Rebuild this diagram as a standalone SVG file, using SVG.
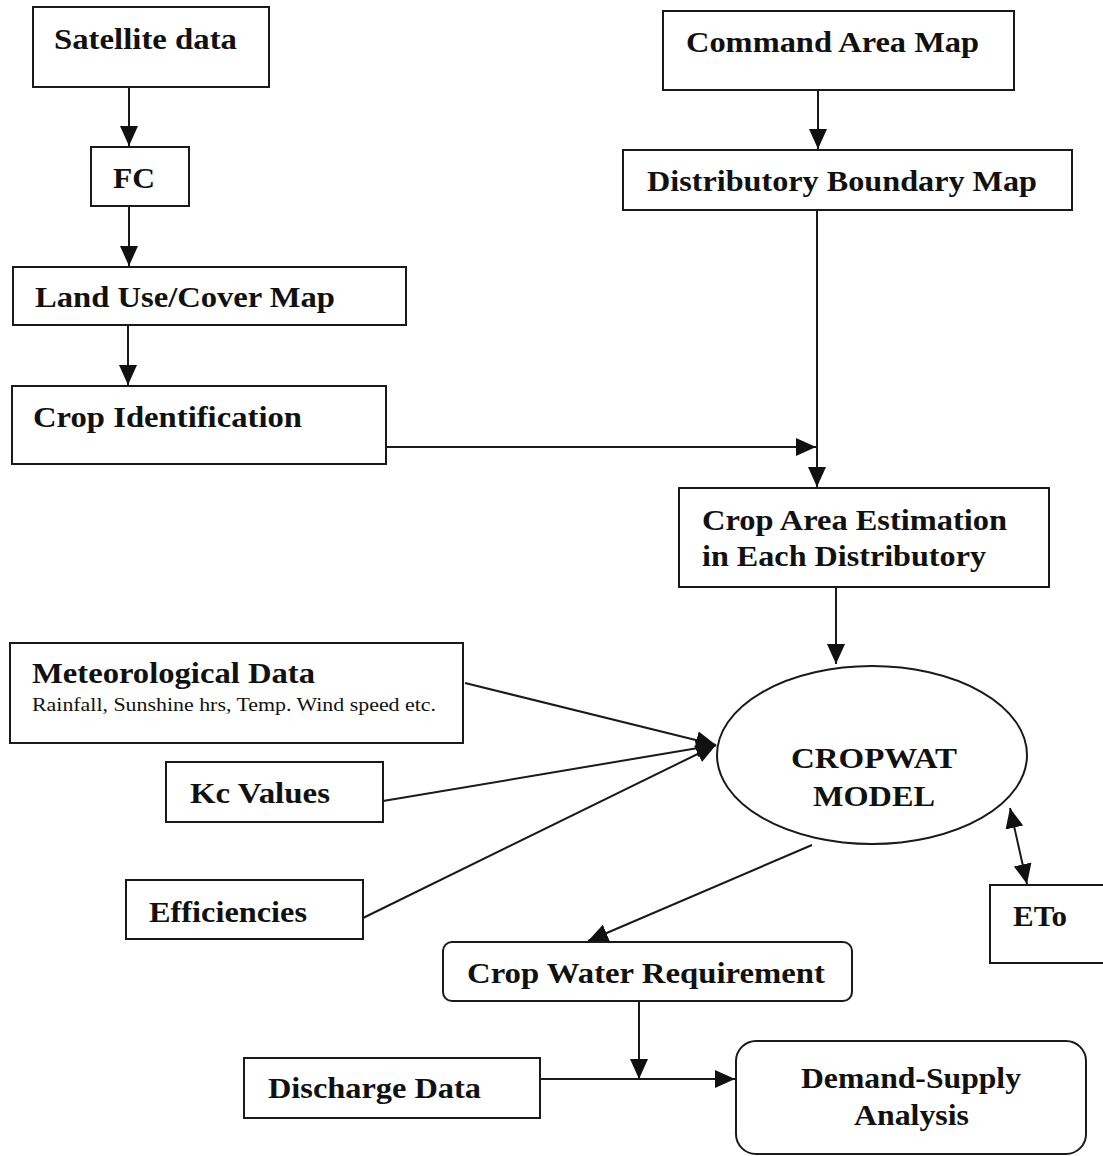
<svg xmlns="http://www.w3.org/2000/svg" width="1103" height="1156" viewBox="0 0 1103 1156">
<style>
.box{fill:#fff;stroke:#1a1a1a;stroke-width:2}
.t{font-family:"Liberation Serif","Times New Roman",serif;font-weight:bold;font-size:30px;fill:#111}
.s{font-family:"Liberation Serif","Times New Roman",serif;font-size:19px;fill:#111}
.c{fill:none;stroke:#1a1a1a;stroke-width:2}
</style>
<defs>
<marker id="ah" markerUnits="userSpaceOnUse" markerWidth="20" markerHeight="20" viewBox="0 0 20 20" refX="20" refY="10" orient="auto">
<path d="M0,1 L20,10 L0,19 Z" fill="#111"/>
</marker>
<marker id="ahs" markerUnits="userSpaceOnUse" markerWidth="20" markerHeight="20" viewBox="0 0 20 20" refX="0" refY="10" orient="auto">
<path d="M20,1 L0,10 L20,19 Z" fill="#111"/>
</marker>
</defs>
<rect width="1103" height="1156" fill="#fff"/>
<g id="connectors">
<line class="c" x1="129" y1="87" x2="129" y2="146" marker-end="url(#ah)"/>
<line class="c" x1="129" y1="206" x2="129" y2="266" marker-end="url(#ah)"/>
<line class="c" x1="128" y1="325" x2="128" y2="385" marker-end="url(#ah)"/>
<line class="c" x1="818" y1="90" x2="818" y2="149" marker-end="url(#ah)"/>
<line class="c" x1="817" y1="210" x2="817" y2="487" marker-end="url(#ah)"/>
<line class="c" x1="386" y1="447" x2="816" y2="447" marker-end="url(#ah)"/>
<line class="c" x1="836" y1="587" x2="836" y2="664" marker-end="url(#ah)"/>
<line class="c" x1="465" y1="683" x2="716" y2="745" marker-end="url(#ah)"/>
<line class="c" x1="383" y1="801" x2="716" y2="745" marker-end="url(#ah)"/>
<line class="c" x1="363" y1="918" x2="716" y2="745" marker-end="url(#ah)"/>
<line class="c" x1="1010" y1="808" x2="1027" y2="884" marker-start="url(#ahs)" marker-end="url(#ah)"/>
<line class="c" x1="812" y1="845" x2="588" y2="941" marker-end="url(#ah)"/>
<line class="c" x1="639" y1="1001" x2="639" y2="1079" marker-end="url(#ah)"/>
<line class="c" x1="540" y1="1079" x2="735" y2="1079" marker-end="url(#ah)"/>
</g>
<g id="satellite"><rect class="box" x="33" y="7" width="236" height="80"/><text class="t" x="54" y="49" textLength="183" lengthAdjust="spacingAndGlyphs">Satellite data</text></g>
<g id="fc"><rect class="box" x="91" y="147" width="98" height="59"/><text class="t" x="113" y="188" textLength="42" lengthAdjust="spacingAndGlyphs">FC</text></g>
<g id="landuse"><rect class="box" x="13" y="267" width="393" height="58"/><text class="t" x="35" y="307" textLength="300" lengthAdjust="spacingAndGlyphs">Land Use/Cover Map</text></g>
<g id="cropid"><rect class="box" x="12" y="386" width="374" height="78"/><text class="t" x="33" y="427" textLength="269" lengthAdjust="spacingAndGlyphs">Crop Identification</text></g>
<g id="command"><rect class="box" x="663" y="11" width="351" height="79"/><text class="t" x="686" y="52" textLength="293" lengthAdjust="spacingAndGlyphs">Command Area Map</text></g>
<g id="distributory"><rect class="box" x="623" y="150" width="449" height="60"/><text class="t" x="647" y="191" textLength="390" lengthAdjust="spacingAndGlyphs">Distributory Boundary Map</text></g>
<g id="croparea"><rect class="box" x="679" y="488" width="370" height="99"/><text class="t" x="702" y="530" textLength="305" lengthAdjust="spacingAndGlyphs">Crop Area Estimation</text><text class="t" x="702" y="566" textLength="284" lengthAdjust="spacingAndGlyphs">in Each Distributory</text></g>
<g id="meteo"><rect class="box" x="10" y="643" width="453" height="100"/><text class="t" x="32" y="683" textLength="283" lengthAdjust="spacingAndGlyphs">Meteorological Data</text><text class="s" x="32" y="711" textLength="404" lengthAdjust="spacingAndGlyphs">Rainfall, Sunshine hrs, Temp. Wind speed etc.</text></g>
<g id="kc"><rect class="box" x="166" y="762" width="217" height="60"/><text class="t" x="190" y="803" textLength="140" lengthAdjust="spacingAndGlyphs">Kc Values</text></g>
<g id="eff"><rect class="box" x="126" y="880" width="237" height="59"/><text class="t" x="149" y="922" textLength="158" lengthAdjust="spacingAndGlyphs">Efficiencies</text></g>
<g id="cropwat"><ellipse class="box" cx="872" cy="755" rx="155" ry="89"/><text class="t" x="791" y="768" textLength="166" lengthAdjust="spacingAndGlyphs">CROPWAT</text><text class="t" x="813" y="806" textLength="122" lengthAdjust="spacingAndGlyphs">MODEL</text></g>
<g id="eto"><rect class="box" x="990" y="885" width="120" height="78"/><text class="t" x="1013" y="926" textLength="54" lengthAdjust="spacingAndGlyphs">ETo</text></g>
<g id="cwr"><rect class="box" x="443" y="942" width="409" height="59" rx="9"/><text class="t" x="467" y="983" textLength="358" lengthAdjust="spacingAndGlyphs">Crop Water Requirement</text></g>
<g id="discharge"><rect class="box" x="244" y="1058" width="296" height="60"/><text class="t" x="268" y="1098" textLength="213" lengthAdjust="spacingAndGlyphs">Discharge Data</text></g>
<g id="demand"><rect class="box" x="736" y="1041" width="350" height="113" rx="20"/><text class="t" x="801" y="1088" textLength="220" lengthAdjust="spacingAndGlyphs">Demand-Supply</text><text class="t" x="854" y="1125" textLength="115" lengthAdjust="spacingAndGlyphs">Analysis</text></g>
</svg>
